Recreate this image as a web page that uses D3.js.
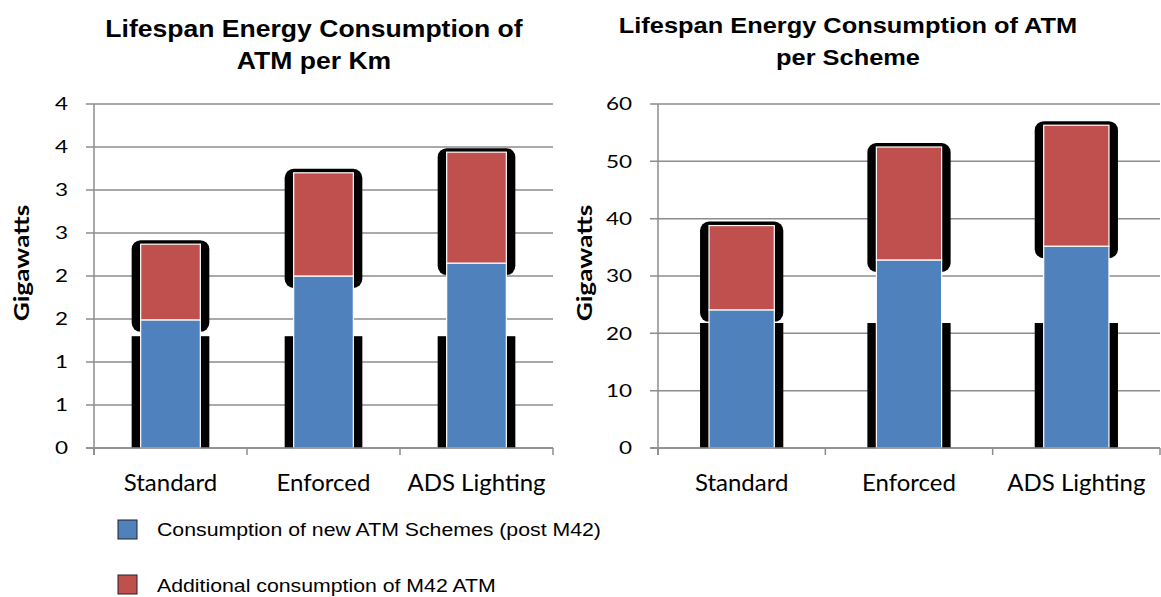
<!DOCTYPE html>
<html>
<head>
<meta charset="utf-8">
<script src="https://cdn.jsdelivr.net/npm/d3@7"></script>
<style>
  body { margin: 0; background: #fff; }
</style>
</head>
<body>
<div id="chart"></div>
<script>
// chart data
var categories = ['Standard', 'Enforced', 'ADS Lighting'];
var seriesNames = ['Consumption of new ATM Schemes (post M42)', 'Additional consumption of M42 ATM'];

var perKmNew = [1.49, 2.0, 2.15];
var perKmM42 = [0.88, 1.2, 1.29];
var perKmTicks = [0, 0.5, 1, 1.5, 2, 2.5, 3, 3.5, 4];
var perKmTickLabels = ['0', '1', '1', '2', '2', '3', '3', '4', '4'];
var perKmShadowBase = 1.3;

var perSchemeNew = [24.1, 32.8, 35.2];
var perSchemeM42 = [14.7, 19.7, 21.1];
var perSchemeTicks = [0, 10, 20, 30, 40, 50, 60];
var perSchemeTickLabels = ['0', '10', '20', '30', '40', '50', '60'];
var perSchemeShadowBase = 21.8;

var colors = ['#4f81bd', '#c0504d'];
var gridColor = '#8c8c8c';
var arial = "'Liberation Sans', Arial, sans-serif";
var calibri = "Lato, sans-serif";

var svg = d3.select('#chart').append('svg')
    .attr('width', 1161)
    .attr('height', 597);

function drawChart(opt) {
    var x = d3.scaleBand()
        .domain(categories)
        .range([opt.left, opt.right]);

    var y = d3.scaleLinear()
        .domain([0, opt.max])
        .range([opt.bottom, opt.top]);

    var g = svg.append('g');

    // gridlines
    g.selectAll('.grid')
        .data(opt.ticks)
        .enter()
        .append('line')
        .attr('x1', opt.left - 8)
        .attr('x2', opt.right)
        .attr('y1', d => y(d))
        .attr('y2', d => y(d))
        .attr('stroke', gridColor)
        .attr('stroke-width', 1.5);

    // y axis labels (text is a bit wide in the original)
    g.selectAll('.ylab')
        .data(opt.ticks)
        .enter()
        .append('text')
        .attr('transform', d => 'translate(' + (opt.left - 26) + ',' + y(d) + ') scale(1.25,1)')
        .attr('dy', '0.36em')
        .attr('text-anchor', 'end')
        .style('font-family', calibri)
        .style('font-size', '18px')
        .style('fill', '#000')
        .text((d, i) => opt.tickLabels[i]);

    var bw = x.bandwidth() * 0.39;
    var pad = 9;

    var bars = g.selectAll('.bar')
        .data(categories.map((c, i) => ({cat: c, a: opt.newVals[i], b: opt.m42Vals[i]})))
        .enter()
        .append('g')
        .attr('transform', d => 'translate(' + (x(d.cat) + (x.bandwidth() - bw) / 2) + ',0)');

    // black shadow shapes
    bars.append('rect')
        .attr('x', -pad)
        .attr('width', bw + pad * 2)
        .attr('y', y(opt.shadowBase))
        .attr('height', y(0) - y(opt.shadowBase))
        .attr('fill', '#000');

    bars.append('rect')
        .attr('x', -pad)
        .attr('width', bw + pad * 2)
        .attr('y', d => y(d.a + d.b) - 4)
        .attr('height', d => y(d.a) - y(d.a + d.b) + 16)
        .attr('rx', 9)
        .attr('fill', '#000');

    bars.append('rect')
        .attr('width', bw)
        .attr('y', d => y(d.a))
        .attr('height', d => y(0) - y(d.a))
        .attr('fill', colors[0])
        .attr('stroke', '#fff')
        .attr('stroke-width', 1.2);

    bars.append('rect')
        .attr('width', bw)
        .attr('y', d => y(d.a + d.b))
        .attr('height', d => y(d.a) - y(d.a + d.b))
        .attr('fill', colors[1])
        .attr('stroke', '#fff')
        .attr('stroke-width', 1.2);

    // axes lines
    g.append('line')
        .attr('x1', opt.left).attr('x2', opt.left)
        .attr('y1', opt.top).attr('y2', opt.bottom + 7)
        .attr('stroke', gridColor).attr('stroke-width', 1.5);

    g.append('line')
        .attr('x1', opt.left - 8).attr('x2', opt.right)
        .attr('y1', opt.bottom).attr('y2', opt.bottom)
        .attr('stroke', gridColor).attr('stroke-width', 1.5);

    var bounds = categories.map(c => x(c)).concat([opt.right]);
    g.selectAll('.xtick')
        .data(bounds)
        .enter()
        .append('line')
        .attr('x1', d => d).attr('x2', d => d)
        .attr('y1', opt.bottom).attr('y2', opt.bottom + 7)
        .attr('stroke', gridColor).attr('stroke-width', 1.5);

    g.selectAll('.xlab')
        .data(categories)
        .enter()
        .append('text')
        .attr('x', d => x(d) + x.bandwidth() / 2)
        .attr('y', opt.bottom + 43)
        .attr('text-anchor', 'middle')
        .style('font-family', calibri)
        .style('font-size', '24px')
        .text(d => d);

    g.append('text')
        .attr('transform', 'translate(' + opt.yTitleX + ',' + 263 + ') rotate(-90) scale(1.28,1)')
        .attr('text-anchor', 'middle')
        .style('font-family', calibri)
        .style('font-weight', 700)
        .style('font-size', '20.5px')
        .text('Gigawatts');

    opt.title.forEach((t, i) => {
        g.append('text')
            .attr('transform', 'translate(' + opt.titleX + ',' + (opt.titleY + i * 32) + ') scale(1.155,1)')
            .attr('text-anchor', 'middle')
            .style('font-family', arial)
            .style('font-weight', 700)
            .style('font-size', opt.titleSize + 'px')
            .text(t);
    });
}

drawChart({
    left: 94, right: 553, top: 104, bottom: 448, max: 4,
    ticks: perKmTicks, tickLabels: perKmTickLabels,
    newVals: perKmNew, m42Vals: perKmM42, shadowBase: perKmShadowBase,
    yTitleX: 29, titleX: 314, titleY: 37, titleSize: 23,
    title: ['Lifespan Energy Consumption of', 'ATM per Km']
});

drawChart({
    left: 658, right: 1160, top: 104, bottom: 448, max: 60,
    ticks: perSchemeTicks, tickLabels: perSchemeTickLabels,
    newVals: perSchemeNew, m42Vals: perSchemeM42, shadowBase: perSchemeShadowBase,
    yTitleX: 592, titleX: 848, titleY: 33, titleSize: 22,
    title: ['Lifespan Energy Consumption of ATM', 'per Scheme']
});

// legend
var legend = svg.append('g');
seriesNames.forEach((s, i) => {
    legend.append('rect')
        .attr('x', 118)
        .attr('y', 520 + i * 55)
        .attr('width', 19)
        .attr('height', 19)
        .attr('fill', colors[i])
        .attr('stroke', '#222')
        .attr('stroke-width', 1);
    legend.append('text')
        .attr('transform', 'translate(157,' + (536 + i * 56) + ') scale(1.15,1)')
        .style('font-family', arial)
        .style('font-size', '18.5px')
        .text(s);
});
</script>
</body>
</html>
